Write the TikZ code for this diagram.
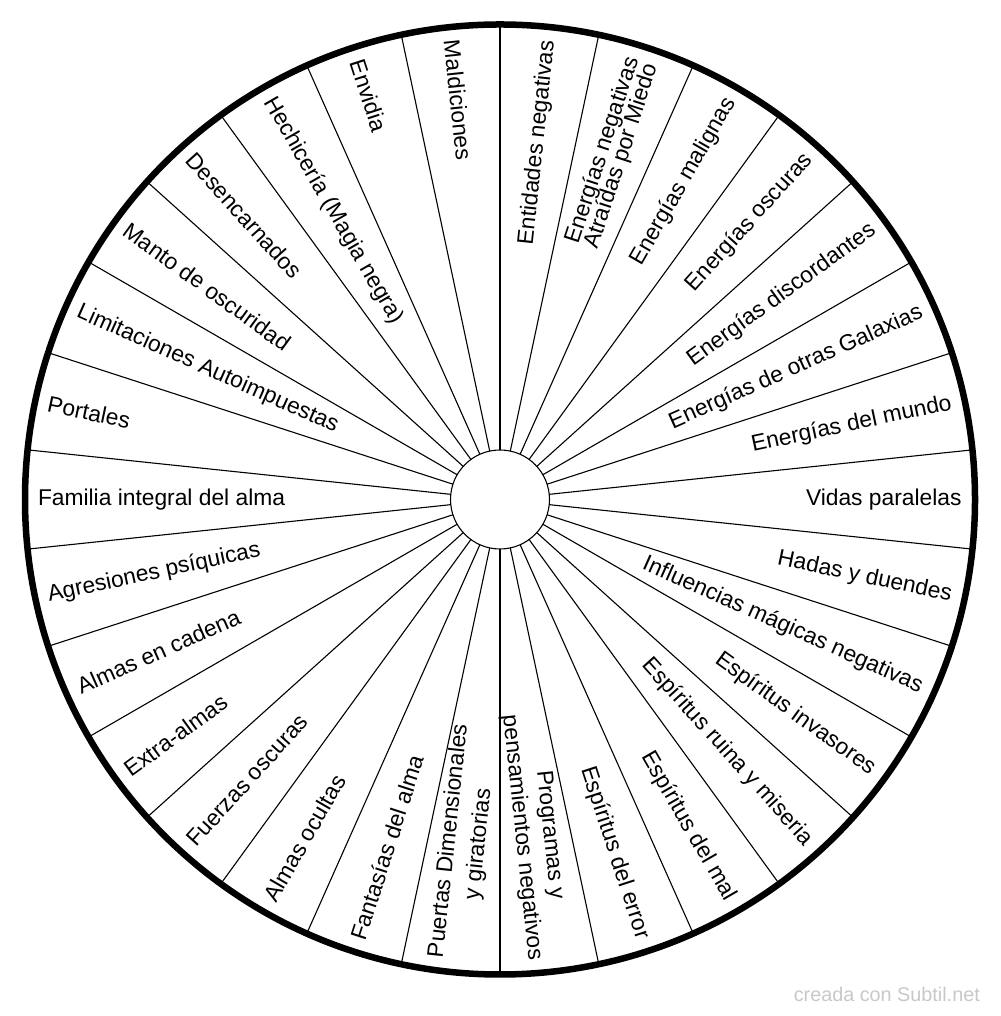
\documentclass[tikz,border=0pt]{standalone}
\usepackage{fontspec}
\setmainfont{Liberation Sans}
\usetikzlibrary{calc}
\definecolor{wm}{RGB}{200,200,200}
\begin{document}
\begin{tikzpicture}[x=1pt,y=1pt,
  spoke/.style={line width=1.1pt, black},
  lbl/.style={font=\fontsize{22.8}{26}\selectfont, inner sep=0pt, outer sep=0pt, align=center},
  rlbl/.style={lbl, anchor=east},
  llbl/.style={lbl, anchor=west},
]
\useasboundingbox (0,0) rectangle (1000,1016);
\coordinate (c) at (500,516.5);
\node[circle, draw, line width=6.5pt, minimum size=950pt, inner sep=0pt, outer sep=0pt] (rim) at (c) {};
\node[circle, draw, line width=1.1pt, minimum size=99pt, inner sep=0pt, outer sep=0pt] (hub) at (c) {};
\foreach \k in {0,...,29}{
  \pgfmathtruncatemacro\ang{90-12*\k}
  \draw[spoke] (hub.\ang) -- (rim.\ang);
}
% right half labels
\foreach \a/\t [count=\n] in {
  84/Entidades negativas,
  60/Energías malignas,
  48/Energías oscuras,
  36/Energías discordantes,
  24/Energías de otras Galaxias,
  12/Energías del mundo,
  0/Vidas paralelas,
  -12/Hadas y duendes,
  -24/Influencias mágicas negativas,
  -36/Espíritus invasores,
  -48/Espíritus ruina y miseria,
  -60/Espíritus del mal,
  -72/Espíritus del error}{
  \node[rlbl, rotate=\a] (R\n) at ($(c)+(\a:461.5)$) {\t};
}
\node[rlbl, rotate=72, font={\fontsize{22.8}{20}\selectfont\lineskiplimit=-\maxdimen}] (R14) at ($(c)+(72:461.5)$) {Energías negativas\\Atraídas por Miedo};
\node[rlbl, rotate=-84, font={\fontsize{22.8}{28}\selectfont\lineskiplimit=-\maxdimen}] (R15) at ($(c)+(-84:461.5)$) {Programas y\\pensamientos negativos};
% left half labels
\foreach \a/\t [count=\n] in {
  96/Maldiciones,
  108/Envidia,
  120/Hechicería (Magia negra),
  132/Desencarnados,
  144/Manto de oscuridad,
  156/Limitaciones Autoimpuestas,
  168/Portales,
  180/Familia integral del alma,
  192/Agresiones psíquicas,
  204/Almas en cadena,
  216/Extra-almas,
  228/Fuerzas oscuras,
  240/Almas ocultas,
  252/Fantasías del alma}{
  \pgfmathsetmacro\rot{\a+180}
  \node[llbl, rotate=\rot] (L\n) at ($(c)+(\a:462)$) {\t};
}
\node[llbl, rotate=84, font={\fontsize{22.8}{30}\selectfont\lineskiplimit=-\maxdimen}] (L15) at ($(c)+(264:462)$) {Puertas Dimensionales\\y giratorias};
\node[anchor=base east, inner sep=0pt, text=wm, font=\fontsize{19.8}{22}\selectfont] (wmk) at (980,14) {creada con Subtil.net};
\end{tikzpicture}
\end{document}
